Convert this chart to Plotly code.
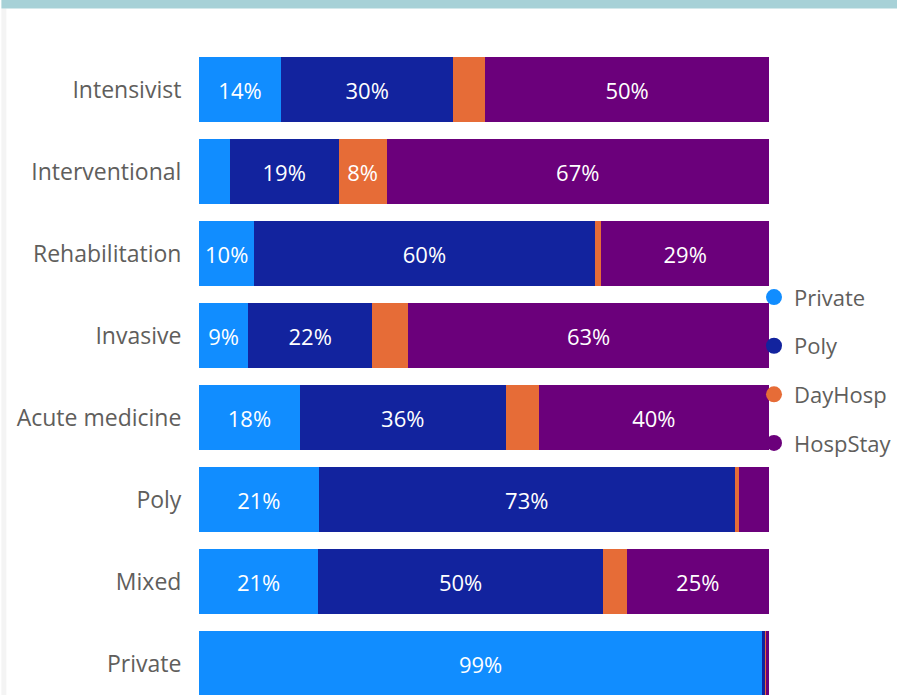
import plotly.graph_objects as go

categories = ["Intensivist", "Interventional", "Rehabilitation", "Invasive",
              "Acute medicine", "Poly", "Mixed", "Private"]
private = [14.4, 5.4, 9.7, 8.6, 17.7, 21.0, 20.9, 98.8]
poly = [30.2, 19.1, 59.7, 21.8, 36.1, 73.0, 50.0, 0.5]
dayhosp = [5.6, 8.4, 1.2, 6.3, 5.8, 0.8, 4.1, 0.2]
hospstay = [49.8, 67.1, 29.4, 63.3, 40.4, 5.2, 25.0, 0.5]

series = [("Private", private, "#118DFF"),
          ("Poly", poly, "#12239E"),
          ("DayHosp", dayhosp, "#E66C37"),
          ("HospStay", hospstay, "#6B007B")]

FONT = "Open Sans, Segoe UI, sans-serif"
GREY = "#605e5c"
W, H = 897, 695
ML, MR, MT, MB = 199, 124, 48.5, 0
plot_w = W - ML - MR
plot_h = H - MT - MB
pitch = 82.0
n_vis = plot_h / pitch

fig = go.Figure()
for name, vals, color in series:
    labels = [f"{v:.0f}%" if v >= 7 else "" for v in vals]
    fig.add_trace(go.Bar(
        y=categories, x=vals, orientation="h", name=name,
        marker=dict(color=color, line=dict(width=0)),
        text=labels, textposition="inside", insidetextanchor="middle",
        textangle=0, constraintext="none",
        textfont=dict(color="white", size=22, family=FONT),
        showlegend=False, hoverinfo="skip",
    ))
    fig.add_trace(go.Scatter(
        x=[None], y=[None], mode="markers", name=name,
        marker=dict(symbol="circle", size=16, color=color),
        legendgroup=name, showlegend=True,
    ))

fig.update_layout(
    width=W, height=H,
    margin=dict(l=ML, r=MR, t=MT, b=MB, pad=0),
    barmode="stack", barnorm="percent", bargap=17 / 82,
    paper_bgcolor="white", plot_bgcolor="white",
    font=dict(family=FONT, color=GREY, size=20),
    xaxis=dict(visible=False, range=[0, 100], fixedrange=True),
    yaxis=dict(
        type="category", categoryorder="array", categoryarray=categories,
        range=[-0.5 + n_vis, -0.5],
        showgrid=False, zeroline=False, showline=False,
        ticks="outside", ticklen=12, tickcolor="rgba(0,0,0,0)",
        tickfont=dict(size=23, color=GREY, family=FONT),
    ),
    legend=dict(
        x=(758 - ML) / plot_w, xanchor="left", y=1 - (276 - MT) / plot_h,
        yanchor="top",
        font=dict(size=22, color=GREY, family=FONT),
        tracegroupgap=17, bgcolor="rgba(0,0,0,0)", itemsizing="trace",
    ),
    shapes=[
        dict(type="rect", xref="paper", yref="paper",
             x0=-ML / plot_w, x1=1 + (MR + 20) / plot_w,
             y0=1 + (MT - 8) / plot_h, y1=1 + MT / plot_h + 0.01,
             fillcolor="#a7d1d7", line=dict(width=0), layer="above"),
        dict(type="rect", xref="paper", yref="paper",
             x0=-ML / plot_w, x1=-(ML - 5) / plot_w,
             y0=-0.01, y1=1 + (MT - 8) / plot_h,
             fillcolor="#f4f4f4", line=dict(width=0), layer="below"),
    ],
)

fig.write_html("out.html", config={"displayModeBar": False},
               post_script="document.body.style.margin='0px';")
